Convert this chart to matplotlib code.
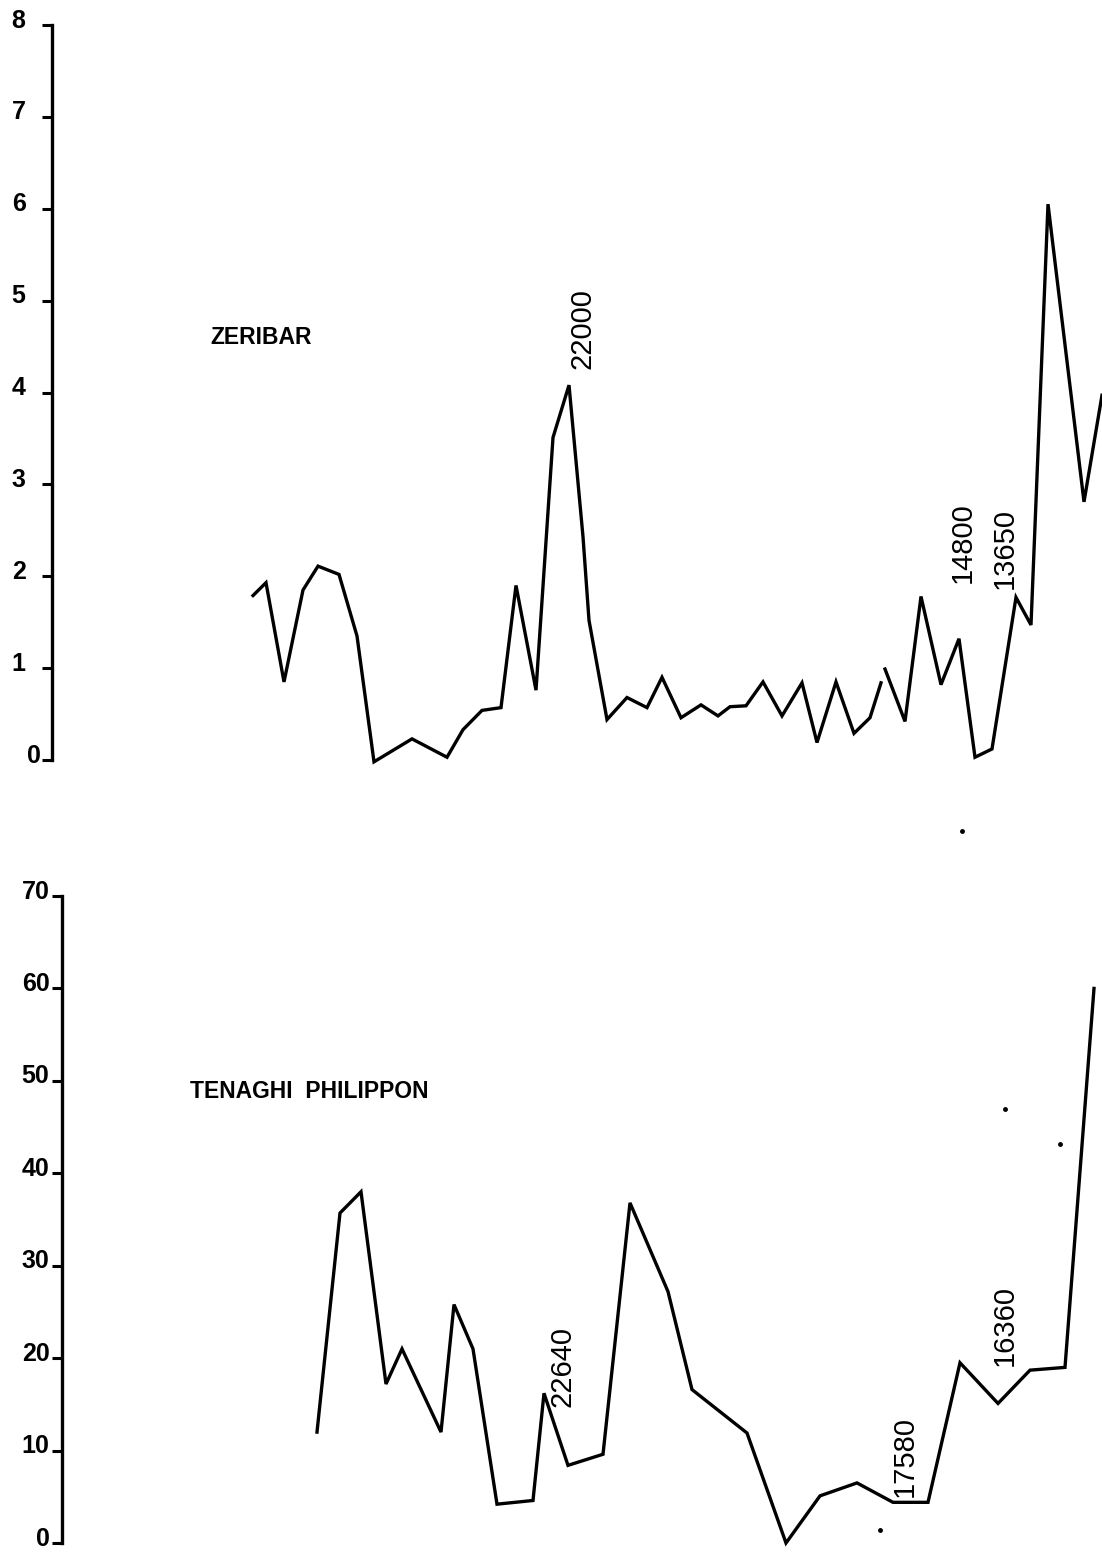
import numpy as np
import matplotlib
matplotlib.use("Agg")
import matplotlib.pyplot as plt
from matplotlib.transforms import ScaledTranslation

plt.rcParams["font.family"] = ["Liberation Sans", "DejaVu Sans"]

# Zeribar: sample position along the section (arbitrary units) and value
zer_pos = [253, 266, 284, 303, 318, 339, 357, 374, 412, 447, 463, 482, 501, 516,
           536, 553, 569, 583, 589, 607, 627, 647, 662, 681, 701, 718, 730, 746,
           763, 782, 802, 817, 836, 854, 870, 881,
           883,
           885, 905, 921, 941, 959, 975, 992, 1016, 1031, 1048, 1084, 1102]
zer_val = [1.79, 1.93, 0.85, 1.85, 2.11, 2.02, 1.35, -0.02, 0.23, 0.03, 0.33, 0.54,
           0.57, 1.90, 0.76, 3.51, 4.08, 2.43, 1.52, 0.44, 0.68, 0.57, 0.90, 0.46,
           0.60, 0.48, 0.58, 0.59, 0.85, 0.48, 0.84, 0.19, 0.85, 0.29, 0.46, 0.84,
           None,
           0.99, 0.42, 1.78, 0.82, 1.32, 0.03, 0.12, 1.77, 1.47, 6.05, 2.81, 3.97]

# Tenaghi Philippon
ten_pos = [317, 340, 361, 386, 402, 441, 454, 473, 497, 533, 544, 568, 603, 630,
           668, 692, 747, 786, 820, 857, 893, 928, 960, 998, 1030, 1065, 1094]
ten_val = [12.0, 35.7, 38.0, 17.2, 21.0, 12.0, 25.8, 21.0, 4.2, 4.6, 16.2, 8.4,
           9.6, 36.8, 27.2, 16.6, 11.9, 0.0, 5.1, 6.5, 4.4, 4.4, 19.5, 15.1, 18.7,
           19.0, 60.0]

# stray dots on the sheet (bottom panel scale)
speck_pos = [962, 1005, 1060, 880]
speck_val = [77.0, 47.0, 43.2, 1.4]

# radiocarbon dates written beside the curves: (label, position, value)
zer_dates = [("22000", 583, 4.70), ("14800", 963, 2.37), ("13650", 1005, 2.30)]
ten_dates = [("22640", 562, 19.1), ("17580", 905, 9.4), ("16360", 1005, 23.5)]

zer_ticks = [0, 1, 2, 3, 4, 5, 6, 7, 8]
ten_ticks = [0, 10, 20, 30, 40, 50, 60, 70]

W, H = 1102, 1557
fig = plt.figure(figsize=(W / 100, H / 100), dpi=100)

ax1 = fig.add_axes([0, (H - 760) / H, 1, (760 - 25) / H])
ax2 = fig.add_axes([0, (H - 1543) / H, 1, (1543 - 896) / H])


def style_axis(ax, spine_x, ticks, ymax, pad, dy, zero_shift=0):
    ax.set_xlim(0, W)
    ax.set_ylim(0, ymax)
    for s in ["top", "right", "bottom"]:
        ax.spines[s].set_visible(False)
    ax.spines["left"].set_position(("data", spine_x))
    ax.spines["left"].set_linewidth(2.4)
    ax.set_xticks([])
    ax.set_yticks(ticks)
    ax.set_yticklabels([str(t) for t in ticks])
    ax.tick_params(axis="y", length=7, width=2.2, pad=pad, labelsize=18)
    for t, lab in zip(ticks, ax.get_yticklabels()):
        dx = zero_shift if t == 0 else 0
        offset = ScaledTranslation(dx / 72, dy / 72, fig.dpi_scale_trans)
        lab.set_fontweight("bold")
        lab.set_transform(lab.get_transform() + offset)
    ax.patch.set_visible(False)


style_axis(ax1, 52, zer_ticks, 8, 12, 5, zero_shift=11)
style_axis(ax2, 62, ten_ticks, 70, 2, 5)

zv = np.array([np.nan if v is None else v for v in zer_val], dtype=float)
ax1.plot(zer_pos, zv, color="black", lw=2.4, clip_on=False, solid_joinstyle="miter")
ax2.plot(ten_pos, ten_val, color="black", lw=2.4, clip_on=False, solid_joinstyle="miter")
ax2.plot(speck_pos, speck_val, "o", color="black", ms=2.5, clip_on=False)

ax1.text(210, 4.6, "ZERIBAR", fontsize=16.5, fontweight="bold", va="center", ha="left")
ax2.text(190, 48.8, "TENAGHI  PHILIPPON", fontsize=16.5, fontweight="bold",
         va="center", ha="left")

for ax, dates in [(ax1, zer_dates), (ax2, ten_dates)]:
    for lab, x, y in dates:
        ax.text(x, y, lab, rotation=90, fontsize=21, ha="center", va="center")

fig.savefig("out.png", dpi=100, facecolor="white")
